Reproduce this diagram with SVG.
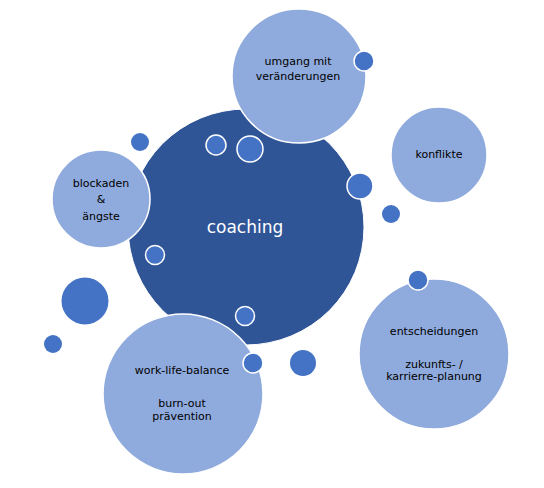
<svg xmlns="http://www.w3.org/2000/svg" width="544" height="488" viewBox="0 0 544 488">
<style>
.dark{fill:#2F5597;stroke:#ffffff;stroke-width:1}
.light{fill:#8FAADC;stroke:#ffffff;stroke-width:1.5}
.dot{fill:#4472C4;stroke:#ffffff;stroke-width:1.5}
.dotp{fill:#4472C4}
.t{font-family:"DejaVu Sans",Verdana,sans-serif;font-size:11px;fill:#000000;text-anchor:middle}
.tc{font-family:"DejaVu Sans",Verdana,sans-serif;font-size:17px;fill:#ffffff;text-anchor:middle}
</style>
<rect width="544" height="488" fill="#ffffff"/>
<g id="coaching">
<circle class="dark" cx="246" cy="227" r="118"/>
<text class="tc" x="245" y="233">coaching</text>
</g>
<g id="umgang">
<circle class="light" cx="299" cy="76" r="67"/>
<text class="t" x="298" y="65">umgang mit</text>
<text class="t" x="298" y="80">veränderungen</text>
</g>
<g id="konflikte">
<circle class="light" cx="439" cy="155" r="48"/>
<text class="t" x="439" y="158">konflikte</text>
</g>
<g id="blockaden">
<circle class="light" cx="101" cy="199" r="49"/>
<text class="t" x="101" y="187">blockaden</text>
<text class="t" x="101" y="203">&amp;</text>
<text class="t" x="101" y="220">ängste</text>
</g>
<g id="entscheidungen">
<circle class="light" cx="434" cy="354" r="75"/>
<text class="t" x="434" y="335">entscheidungen</text>
<text class="t" x="434" y="368">zukunfts- /</text>
<text class="t" x="434" y="380">karrierre-planung</text>
</g>
<g id="worklife">
<circle class="light" cx="183" cy="394" r="80"/>
<text class="t" x="182" y="374">work-life-balance</text>
<text class="t" x="182" y="407">burn-out</text>
<text class="t" x="182" y="420">prävention</text>
</g>
<g id="dots">
<circle class="dot" cx="364" cy="61" r="10"/>
<circle class="dotp" cx="391" cy="214" r="9"/>
<circle class="dot" cx="360" cy="186" r="13"/>
<circle class="dot" cx="216" cy="145" r="10"/>
<circle class="dot" cx="250" cy="149" r="13"/>
<circle class="dotp" cx="140" cy="142" r="9"/>
<circle class="dot" cx="155" cy="255" r="9.5"/>
<circle class="dot" cx="245" cy="316" r="9.5"/>
<circle class="dot" cx="418" cy="280" r="10"/>
<circle class="dot" cx="253" cy="363" r="10"/>
<circle class="dotp" cx="303" cy="363" r="13"/>
<circle class="dotp" cx="85" cy="301" r="23.5"/>
<circle class="dotp" cx="53" cy="344" r="9"/>
</g>
</svg>
